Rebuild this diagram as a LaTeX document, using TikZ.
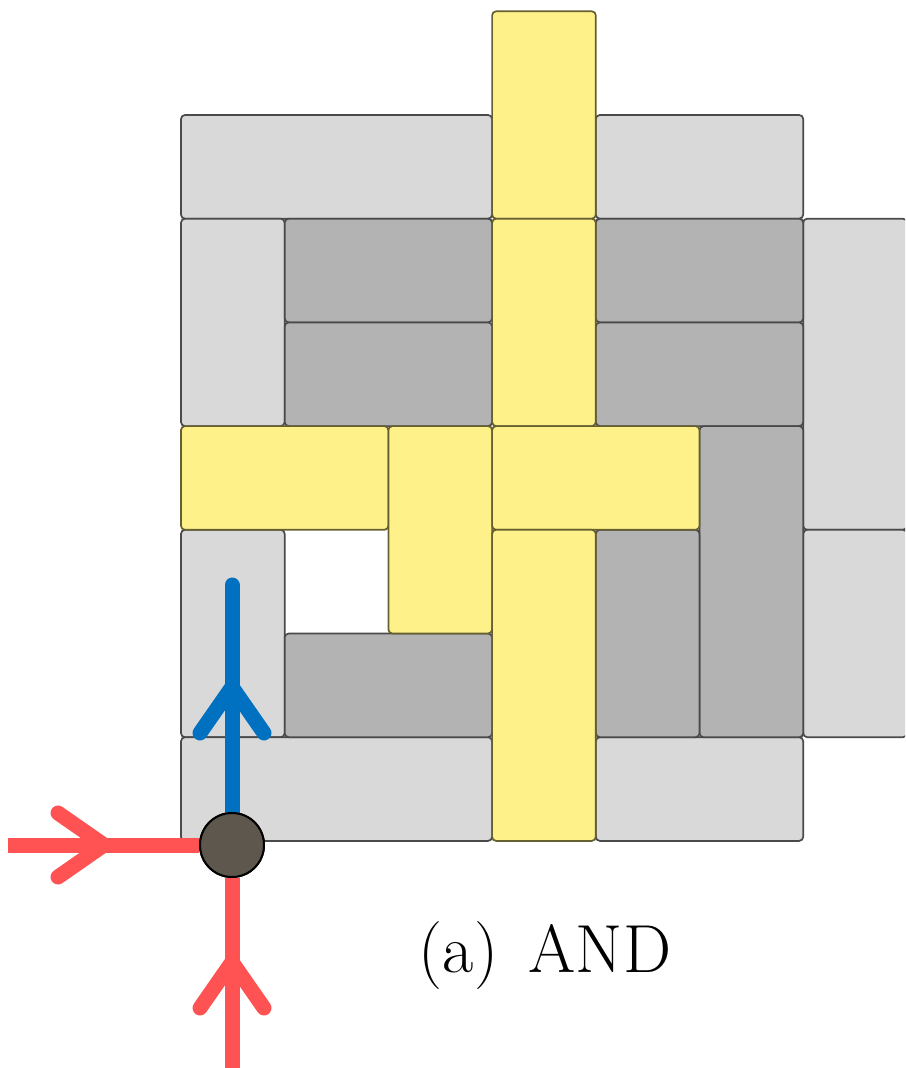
\documentclass[tikz,border=0pt]{standalone}
\usetikzlibrary{decorations.markings}

\definecolor{lightblk}{HTML}{D9D9D9}
\definecolor{darkblk}{HTML}{B3B3B3}
\definecolor{yellowblk}{HTML}{FFF18A}
\definecolor{edgegray}{HTML}{4A4A4A}
\definecolor{edgeyellow}{HTML}{666030}
\definecolor{wireblue}{HTML}{0070C0}
\definecolor{wirered}{HTML}{FF5252}
\definecolor{gatefill}{HTML}{5E574E}

\tikzset{
  tile/.style={rounded corners=4pt, line width=1.7pt},
  lighttile/.style={tile, fill=lightblk, draw=edgegray},
  darktile/.style={tile, fill=darkblk, draw=edgegray},
  yellowtile/.style={tile, fill=yellowblk, draw=edgeyellow},
  wire/.style={line width=15pt, draw=#1},
  chevron/.style 2 args={postaction={decorate, decoration={markings,
      mark=at position #1 with {\draw[#2, line width=15pt, line cap=round, line join=round]
        (-46pt,32pt) -- (0pt,0pt) -- (-46pt,-32pt);}}}},
  gate/.style={circle, minimum size=64pt, inner sep=0pt, fill=gatefill, draw=black, line width=2pt},
}

% tile: style, column, row, width, height (grid cells of 103.7pt)
\newcommand\tile[5]{%
  \draw[#1] ({181+#2*103.7},{11.3+#3*103.7}) rectangle ({181+(#2+#4)*103.7},{11.3+(#3+#5)*103.7});}

\begin{document}
\begin{tikzpicture}[x=1pt, y=-1pt]
  \useasboundingbox (0,0) rectangle (905,1068);
  \begin{scope}
    \clip (0,0) rectangle (905,1068);
    % light grey frame tiles
    \tile{lighttile}{0}{1}{3}{1}
    \tile{lighttile}{4}{1}{2}{1}
    \tile{lighttile}{0}{2}{1}{2}
    \tile{lighttile}{6}{2}{1}{3}
    \tile{lighttile}{6}{5}{1}{2}
    \tile{lighttile}{0}{5}{1}{2}
    \tile{lighttile}{0}{7}{3}{1}
    \tile{lighttile}{4}{7}{2}{1}
    % dark grey tiles
    \tile{darktile}{1}{2}{2}{1}
    \tile{darktile}{1}{3}{2}{1}
    \tile{darktile}{4}{2}{2}{1}
    \tile{darktile}{4}{3}{2}{1}
    \tile{darktile}{5}{4}{1}{3}
    \tile{darktile}{4}{5}{1}{2}
    \tile{darktile}{1}{6}{2}{1}
    % yellow tiles
    \tile{yellowtile}{3}{0}{1}{2}
    \tile{yellowtile}{3}{2}{1}{2}
    \tile{yellowtile}{0}{4}{2}{1}
    \tile{yellowtile}{2}{4}{1}{2}
    \tile{yellowtile}{3}{4}{2}{1}
    \tile{yellowtile}{3}{5}{1}{3}
  \end{scope}

  % gate with its input and output wires
  \node[gate] (g) at (232,845) {};
  \coordinate (inW) at (8,845);
  \coordinate (inS) at (232,1068);
  \coordinate (outN) at (232,585);
  \draw[wire=wirered, chevron={96pt}{wirered}] (inW) -- (g);
  \draw[wire=wirered, chevron={106pt}{wirered}] (inS) -- (g);
  \draw[wire=wireblue, line cap=round, chevron={125pt}{wireblue}] (g) -- (outN);
  \node[gate] at (g) {};

  \node[font=\fontsize{68}{72}\selectfont, anchor=base] (cap) at (545,972) {(a)\hspace{0.45em}AND};
\end{tikzpicture}
\end{document}
